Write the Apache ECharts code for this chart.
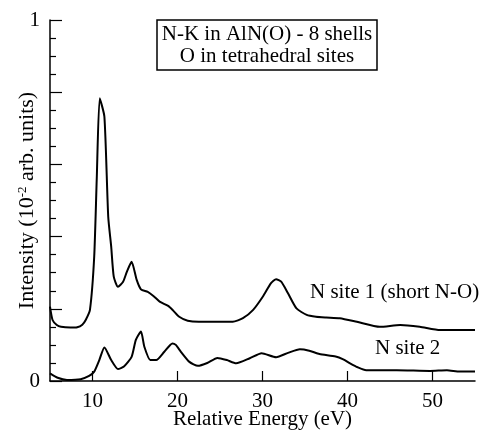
<!DOCTYPE html>
<html>
<head>
<meta charset="utf-8">
<script src="https://cdn.jsdelivr.net/npm/echarts@6/dist/echarts.min.js"></script>
<style>html,body{margin:0;padding:0;background:#fff;}#c{width:487px;height:432px;}</style>
</head>
<body>
<div id="c"></div>
<script>
// N site 1 (short N-O)
var energy1 = [5.0,5.3,5.8,6.3,7.4,8.2,8.8,9.2,9.7,10.2,10.5,10.85,11.4,11.85,12.2,12.5,13.0,13.6,14.05,14.6,15.2,15.7,16.5,17.2,17.9,18.9,19.5,20.2,21.2,22.5,26.5,27.7,28.9,30.05,31.0,31.6,32.2,33.0,34.0,35.2,36.3,37.5,39.1,41.1,43.8,46.2,48.5,50.9,55.0];
var intensity1 = [0.206,0.169,0.155,0.150,0.148,0.149,0.156,0.169,0.197,0.344,0.56,0.783,0.732,0.455,0.372,0.289,0.261,0.275,0.303,0.330,0.280,0.254,0.247,0.235,0.220,0.208,0.195,0.178,0.167,0.164,0.164,0.174,0.197,0.234,0.271,0.282,0.275,0.243,0.201,0.183,0.178,0.176,0.174,0.164,0.150,0.155,0.150,0.141,0.141];
// N site 2
var energy2 = [5.0,5.9,7.0,8.6,9.6,10.2,10.8,11.4,12.2,13.0,13.7,14.6,15.1,15.7,16.1,16.8,17.5,18.45,19.4,19.8,20.4,21.4,22.4,23.5,24.7,25.8,26.9,28.5,29.9,31.6,33.0,34.4,35.5,36.7,38.6,39.5,40.3,41.2,42.2,45.8,49.7,51.7,53.2,55.0];
var intensity2 = [0.021,0.009,0.003,0.005,0.014,0.026,0.058,0.093,0.058,0.033,0.040,0.067,0.114,0.137,0.095,0.058,0.058,0.081,0.104,0.100,0.081,0.053,0.042,0.050,0.064,0.058,0.049,0.063,0.077,0.066,0.078,0.088,0.084,0.075,0.068,0.060,0.049,0.038,0.030,0.030,0.028,0.030,0.026,0.026];
var xTicks = [10,20,30,40,50];
var yLabelValues = [0,1];
var seriesNames = ['N site 1 (short N-O)','N site 2'];
var boxLines = ['N-K in AlN(O) - 8 shells','O in tetrahedral sites'];
var xTitle = 'Relative Energy (eV)';
var yTitle = 'Intensity (10{sup|-2} arb. units)';

function pairs(xs, ys){ return xs.map(function(x,i){ return [x, ys[i]]; }); }

var FONT = '"Liberation Serif", "Times New Roman", serif';
var chart = echarts.init(document.getElementById('c'), null, {renderer:'canvas'});
chart.setOption({
  backgroundColor:'#fff',
  animation:false,
  title:{
    text: boxLines.join('\n'),
    left: 262, top: 20, textAlign:'center',
    borderColor:'#000', borderWidth:1.5, padding:[3,5],
    textStyle:{fontFamily:FONT, fontSize:21, fontWeight:'normal', lineHeight:22, color:'#000'}
  },
  grid:{left:50, right:12, top:20, bottom:51, containLabel:false, outerBoundsMode:'none'},
  xAxis:{
    type:'value', min:5, max:55, interval:5,
    name: xTitle, nameLocation:'middle', nameGap:28, nameMoveOverlap:false,
    nameTextStyle:{fontFamily:FONT, fontSize:21, color:'#000'},
    axisLine:{lineStyle:{color:'#000', width:1.5}},
    axisTick:{inside:true, length:10, customValues:xTicks, lineStyle:{color:'#000', width:1.2}},
    axisLabel:{customValues:xTicks, fontFamily:FONT, fontSize:21, color:'#000', margin:10},
    splitLine:{show:false}
  },
  yAxis:{
    type:'value', min:0, max:1, interval:0.2,
    name: yTitle, nameLocation:'middle', nameGap:12, nameMoveOverlap:false,
    nameTextStyle:{fontFamily:FONT, fontSize:22, color:'#000', rich:{sup:{fontFamily:FONT, fontSize:13, verticalAlign:'top', color:'#000'}}},
    axisLine:{lineStyle:{color:'#000', width:1.5}},
    axisTick:{inside:true, length:12, lineStyle:{color:'#000', width:1.2}},
    minorTick:{show:true, splitNumber:4, length:6, lineStyle:{color:'#000', width:1.2}},
    axisLabel:{fontFamily:FONT, fontSize:21, color:'#000', margin:10,
      formatter:function(v){ return yLabelValues.indexOf(Math.round(v*100)/100) >= 0 ? String(Math.round(v)) : ''; }},
    splitLine:{show:false}
  },
  graphic:[
    {type:'text', left:310, top:282, style:{text:seriesNames[0], font:'21px ' + FONT, fill:'#000'}},
    {type:'text', left:375, top:338, style:{text:seriesNames[1], font:'21px ' + FONT, fill:'#000'}}
  ],
  series:[
    {name:seriesNames[0], type:'line', data:pairs(energy1,intensity1), showSymbol:false, smooth:0.2, lineStyle:{color:'#000', width:2}},
    {name:seriesNames[1], type:'line', data:pairs(energy2,intensity2), showSymbol:false, smooth:0.2, lineStyle:{color:'#000', width:2}}
  ]
});
</script>
</body>
</html>
